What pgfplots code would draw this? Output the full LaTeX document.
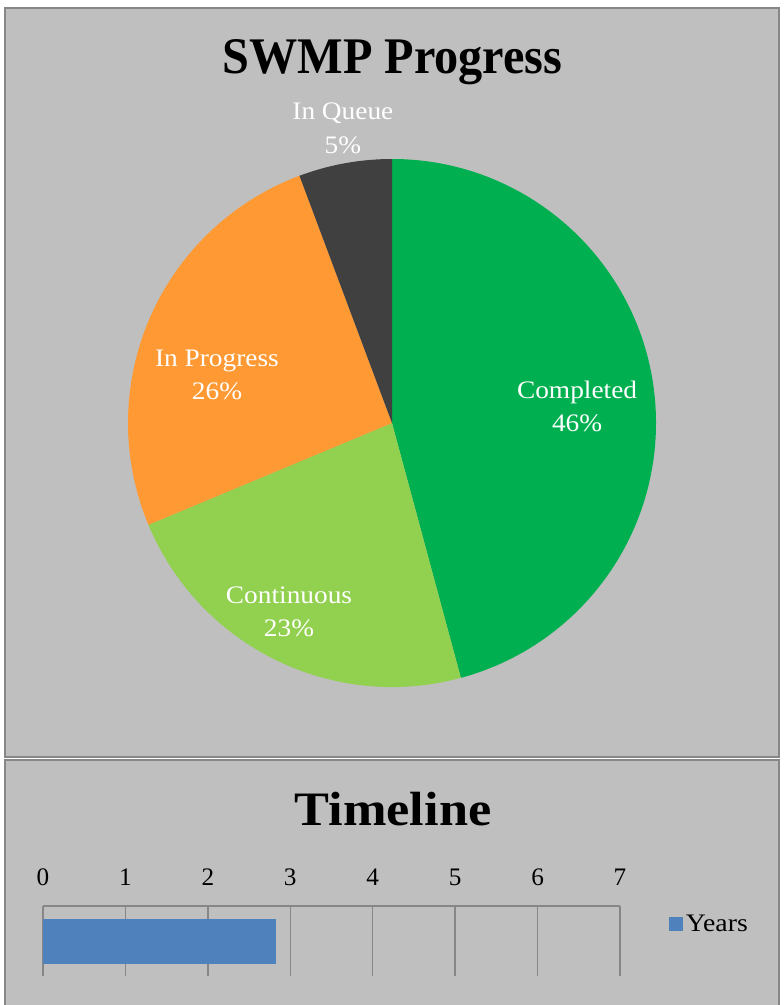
\documentclass[border=0pt]{standalone}
\usepackage{pgfplots}
\pgfplotsset{compat=1.18}
\usepackage{fontspec}
\setmainfont{Liberation Serif}
\usepackage{graphicx}
\definecolor{bg}{HTML}{BFBFBF}
\definecolor{frame}{HTML}{878787}
\definecolor{cgreen}{HTML}{00B050}
\definecolor{clight}{HTML}{92D050}
\definecolor{corange}{HTML}{FF9933}
\definecolor{cdark}{HTML}{404040}
\definecolor{barblue}{HTML}{4F81BD}
\definecolor{gridgray}{HTML}{868686}
% pie values (percent): Completed, Continuous, In Progress, In Queue
\def\vA{45.8}\def\vB{22.9}\def\vC{25.6}\def\vD{5.7}
\pgfmathsetmacro\aA{0}
\pgfmathsetmacro\aB{\aA+3.6*\vA}
\pgfmathsetmacro\aC{\aB+3.6*\vB}
\pgfmathsetmacro\aD{\aC+3.6*\vC}
\pgfmathsetmacro\aE{\aD+3.6*\vD}
\newcommand\lbl[1]{{\fontsize{18.9}{25.1}\selectfont\scalebox{1.085}[1]{\begin{tabular}{@{}c@{}}#1\end{tabular}}}}
\begin{document}
\begin{tikzpicture}[x=0.75pt,y=-0.75pt]
\path[use as bounding box, fill=white] (0,0) rectangle (784,1005);
\filldraw[fill=bg, draw=frame, line width=1.1pt] (5,8) rectangle (779,757);
\filldraw[fill=bg, draw=frame, line width=1.1pt] (5,760) rectangle (779,1030);
\node[anchor=base, inner sep=0pt] at (392.5,74) {\fontsize{38.5}{40}\selectfont\bfseries\scalebox{0.94}[1]{SWMP Progress}};
\node[anchor=base, inner sep=0pt] at (393,825) {\fontsize{36}{38}\selectfont\bfseries\scalebox{1.09}[1]{Timeline}};
\coordinate (pc) at (392,423);
\coordinate (tc) at (43,941);
\begin{axis}[at={(pc)}, anchor=origin, width=396pt, height=396pt, scale only axis,
  xmin=-1, xmax=1, ymin=-1, ymax=1, hide axis, clip=false]
\fill[cgreen]  (axis cs:0,0) -- (axis cs:{sin(\aA)},{cos(\aA)}) arc[start angle={90-\aA}, end angle={90-\aB}, radius=198pt] -- cycle;
\fill[clight]  (axis cs:0,0) -- (axis cs:{sin(\aB)},{cos(\aB)}) arc[start angle={90-\aB}, end angle={90-\aC}, radius=198pt] -- cycle;
\fill[corange] (axis cs:0,0) -- (axis cs:{sin(\aC)},{cos(\aC)}) arc[start angle={90-\aC}, end angle={90-\aD}, radius=198pt] -- cycle;
\fill[cdark]   (axis cs:0,0) -- (axis cs:{sin(\aD)},{cos(\aD)}) arc[start angle={90-\aD}, end angle={90-\aE}, radius=198pt] -- cycle;
\node[white, inner sep=0pt] at (axis cs:0.701,0.055) {\lbl{Completed\\46\%}};
\node[white, inner sep=0pt] at (axis cs:-0.663,0.177) {\lbl{In Progress\\26\%}};
\node[white, inner sep=0pt] at (axis cs:-0.390,-0.721) {\lbl{Continuous\\23\%}};
\node[white, inner sep=0pt] at (axis cs:-0.186,1.110) {\lbl{In Queue\\5\%}};
\end{axis}
\begin{axis}[at={(tc)}, anchor=origin, width=432.75pt, height=52.5pt, scale only axis,
  xmin=0, xmax=7, ymin=-1, ymax=1,
  axis x line*=top, axis y line=none,
  xtick={0,1,2,3,4,5,6,7}, ytick=\empty, major tick length=0pt,
  xmajorgrids, grid style={color=gridgray, line width=1.1pt},
  axis line style={color=gridgray, line width=1.1pt},
  /pgf/number format/assume math mode=true,
  xticklabel style={font=\fontsize{18.9}{20}\selectfont, yshift=11.5pt},
  legend style={at={(1,0.736)}, anchor=west, xshift=36.75pt, draw=none, fill=none,
    inner sep=0pt, font=\fontsize{18.9}{20}\selectfont},
  legend image code/.code={\fill[barblue] (0pt,-5.25pt) rectangle (10.5pt,5.25pt);}]
\addplot[xbar, fill=barblue, draw=none, bar width=33.75pt] coordinates {(2.83,0)};
\addlegendentry{\scalebox{1.1}[1]{Years}}
\end{axis}
\end{tikzpicture}
\end{document}
